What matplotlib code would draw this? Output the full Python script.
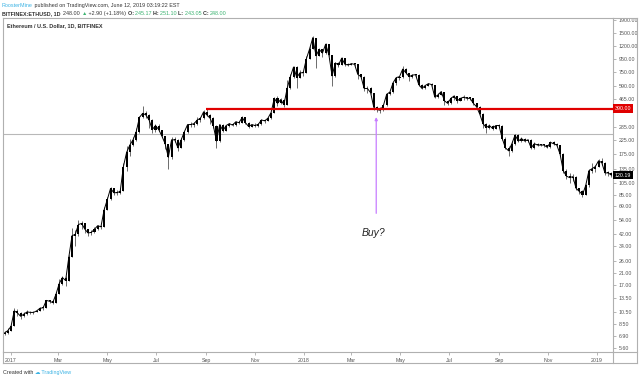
import matplotlib
matplotlib.use('Agg')
import matplotlib.pyplot as plt
import matplotlib.dates as mdates
import numpy as np
import pandas as pd
from matplotlib.lines import Line2D

# ETHUSD daily chart, sampled every 4 days (close / high / low)
dates = pd.date_range('2016-12-24', periods=190, freq='4D')
first_open = 7.2
closes = [
    7.3, 7.6, 8.2, 10.8, 10.4, 9.8, 10.2, 10.6, 10.5, 10.5,
    10.8, 11.3, 11.4, 13.0, 12.8, 12.5, 14.5, 17.5, 19.5, 18.5,
    28.0, 41.0, 42.0, 50.0, 51.0, 46.0, 43.0, 43.5, 46.0, 49.0,
    48.0, 65.0, 78.0, 95.0, 88.0, 88.0, 90.0, 140.0, 180.0, 205.0,
    225.0, 260.0, 335.0, 360.0, 350.0, 320.0, 270.0, 290.0, 270.0, 240.0,
    210.0, 165.0, 225.0, 225.0, 195.0, 225.0, 260.0, 295.0, 295.0, 300.0,
    320.0, 330.0, 370.0, 350.0, 330.0, 290.0, 220.0, 295.0, 265.0, 290.0,
    300.0, 292.0, 310.0, 305.0, 335.0, 305.0, 285.0, 295.0, 290.0, 296.0,
    320.0, 315.0, 330.0, 365.0, 470.0, 430.0, 460.0, 420.0, 560.0, 690.0,
    820.0, 680.0, 740.0, 740.0, 950.0, 1130.0, 1380.0, 1000.0, 1120.0, 1050.0,
    1230.0, 1020.0, 700.0, 880.0, 850.0, 960.0, 860.0, 850.0, 870.0, 860.0,
    720.0, 690.0, 560.0, 560.0, 520.0, 400.0, 385.0, 380.0, 415.0, 505.0,
    525.0, 620.0, 680.0, 690.0, 790.0, 740.0, 690.0, 710.0, 715.0, 600.0,
    560.0, 590.0, 610.0, 600.0, 480.0, 500.0, 530.0, 450.0, 430.0, 470.0,
    490.0, 450.0, 470.0, 480.0, 470.0, 470.0, 430.0, 405.0, 355.0, 300.0,
    280.0, 290.0, 275.0, 290.0, 290.0, 230.0, 195.0, 185.0, 210.0, 245.0,
    220.0, 230.0, 220.0, 225.0, 195.0, 210.0, 205.0, 205.0, 205.0, 197.0,
    215.0, 210.0, 205.0, 175.0, 130.0, 118.0, 115.0, 117.0, 95.0, 90.0,
    85.0, 100.0, 130.0, 135.0, 140.0, 155.0, 150.0, 125.0, 125.0, 120.19,
]
highs = [
    7.5, 7.9, 8.4, 11.3, 11.2, 10.5, 10.5, 11.0, 10.8, 10.8,
    11.0, 11.5, 11.7, 13.2, 13.2, 13.0, 15.0, 19.0, 20.0, 20.0,
    29.0, 47.0, 45.0, 54.0, 53.0, 51.0, 46.0, 45.0, 48.0, 50.0,
    50.0, 68.0, 82.0, 98.0, 96.0, 92.0, 94.0, 150.0, 200.0, 230.0,
    235.0, 280.0, 345.0, 410.0, 375.0, 355.0, 325.0, 300.0, 300.0, 270.0,
    240.0, 210.0, 235.0, 235.0, 228.0, 232.0, 265.0, 300.0, 310.0, 310.0,
    335.0, 340.0, 380.0, 395.0, 355.0, 335.0, 295.0, 300.0, 300.0, 295.0,
    305.0, 305.0, 315.0, 315.0, 345.0, 340.0, 310.0, 300.0, 302.0, 305.0,
    325.0, 322.0, 338.0, 372.0, 480.0, 490.0, 470.0, 465.0, 650.0, 720.0,
    830.0, 830.0, 780.0, 770.0, 990.0, 1180.0, 1430.0, 1380.0, 1150.0, 1130.0,
    1260.0, 1230.0, 1020.0, 900.0, 900.0, 980.0, 965.0, 880.0, 885.0, 875.0,
    860.0, 730.0, 695.0, 580.0, 570.0, 520.0, 410.0, 400.0, 425.0, 510.0,
    535.0, 630.0, 690.0, 700.0, 830.0, 800.0, 740.0, 730.0, 725.0, 720.0,
    610.0, 600.0, 620.0, 615.0, 600.0, 520.0, 540.0, 530.0, 460.0, 480.0,
    495.0, 492.0, 475.0, 500.0, 485.0, 480.0, 472.0, 435.0, 410.0, 360.0,
    305.0, 300.0, 292.0, 295.0, 300.0, 292.0, 235.0, 200.0, 220.0, 250.0,
    248.0, 235.0, 232.0, 230.0, 228.0, 215.0, 212.0, 210.0, 208.0, 206.0,
    220.0, 222.0, 212.0, 206.0, 178.0, 135.0, 125.0, 122.0, 118.0, 96.0,
    92.0, 102.0, 135.0, 150.0, 145.0, 160.0, 162.0, 152.0, 130.0, 127.0,
]
lows = [
    7.0, 7.2, 7.6, 8.2, 9.8, 9.4, 9.7, 10.1, 10.2, 10.3,
    10.5, 10.8, 11.0, 11.4, 12.4, 12.2, 12.5, 14.5, 17.0, 16.8,
    18.5, 28.0, 34.0, 41.0, 46.0, 43.0, 41.0, 41.5, 43.0, 45.5,
    46.5, 48.0, 65.0, 77.0, 84.0, 84.0, 86.0, 90.0, 130.0, 170.0,
    200.0, 222.0, 255.0, 330.0, 330.0, 280.0, 255.0, 260.0, 262.0, 235.0,
    190.0, 135.0, 160.0, 215.0, 185.0, 195.0, 220.0, 255.0, 285.0, 285.0,
    295.0, 310.0, 325.0, 345.0, 300.0, 280.0, 195.0, 218.0, 258.0, 265.0,
    285.0, 288.0, 290.0, 298.0, 305.0, 298.0, 280.0, 285.0, 285.0, 285.0,
    295.0, 305.0, 312.0, 328.0, 362.0, 410.0, 425.0, 400.0, 418.0, 555.0,
    680.0, 560.0, 670.0, 700.0, 735.0, 940.0, 1120.0, 800.0, 990.0, 980.0,
    1040.0, 1000.0, 580.0, 690.0, 820.0, 845.0, 840.0, 830.0, 845.0, 840.0,
    660.0, 680.0, 540.0, 520.0, 510.0, 380.0, 370.0, 365.0, 375.0, 410.0,
    500.0, 520.0, 600.0, 650.0, 680.0, 720.0, 640.0, 680.0, 690.0, 580.0,
    550.0, 555.0, 580.0, 590.0, 470.0, 475.0, 495.0, 420.0, 415.0, 428.0,
    460.0, 435.0, 445.0, 460.0, 455.0, 455.0, 420.0, 400.0, 350.0, 280.0,
    255.0, 275.0, 270.0, 272.0, 282.0, 225.0, 190.0, 168.0, 182.0, 205.0,
    215.0, 218.0, 215.0, 218.0, 190.0, 192.0, 200.0, 200.0, 198.0, 194.0,
    196.0, 205.0, 200.0, 170.0, 125.0, 112.0, 105.0, 108.0, 92.0, 86.0,
    82.0, 84.0, 98.0, 125.0, 128.0, 138.0, 145.0, 120.0, 118.0, 116.0,
]

y_ticks = [1900, 1500, 1200, 950, 750, 590, 465, 285, 225, 175, 135, 105,
           85, 69, 54, 42, 34, 26, 21, 17, 13.5, 10.5, 8.5, 6.9, 5.6]
x_tick_dates = ['2017-01-01', '2017-03-01', '2017-05-01', '2017-07-01',
                '2017-09-01', '2017-11-01', '2018-01-01', '2018-03-01',
                '2018-05-01', '2018-07-01', '2018-09-01', '2018-11-01',
                '2019-01-01']
x_tick_labels = ['2017', 'Mar', 'May', 'Jul', 'Sep', 'Nov', '2018',
                 'Mar', 'May', 'Jul', 'Sep', 'Nov', '2019']

resistance = 390.0
resistance_start = '2017-09-01'
price_line = 248.0
last_price = 120.19

plt.rcParams['font.family'] = ['Liberation Sans', 'DejaVu Sans']

W, H = 640, 379
fig = plt.figure(figsize=(W / 100, H / 100), dpi=100, facecolor='white')


def fx(px):
    return px / W


def fy(py):
    return 1 - py / H


ax = fig.add_axes([fx(3), fy(352), fx(610), (352 - 18) / H])
ax.set_facecolor('white')

# candles
x = mdates.date2num(dates)
c = np.array(closes)
o = np.r_[first_open, c[:-1]]
ax.axhline(price_line, color='#b8b8b8', lw=0.8, zorder=1)
ax.vlines(x, lows, highs, color='#333333', lw=0.5, zorder=2)
ax.plot(x, c, color='black', lw=0.7, zorder=2)
ax.bar(x, np.maximum(np.abs(c - o), c * 0.015), bottom=np.minimum(o, c),
       width=2.6, color='black', lw=0, zorder=3)

# resistance line
ax.hlines(resistance, mdates.datestr2num(resistance_start), x[-1] + 10,
          color='#e00000', lw=1.6, zorder=4)

# arrow and note
arrow_x = mdates.datestr2num('2018-04-01')
ax.annotate('', xy=(arrow_x, 337), xytext=(arrow_x, 61),
            arrowprops=dict(arrowstyle='-|>', color='#c77dff', lw=0.9,
                            mutation_scale=4, shrinkA=0, shrinkB=0), zorder=5)
ax.text(mdates.datestr2num('2018-03-28'), 43, 'Buy?', fontsize=7.5,
        style='italic', color='#222222', ha='center', va='center')

ax.set_yscale('log')
ax.set_ylim(5.2, 1957)
ax.set_xlim(mdates.datestr2num('2016-12-22'), mdates.datestr2num('2019-01-21'))
ax.yaxis.tick_right()
ax.set_yticks(y_ticks, labels=[f'{v:.2f}' for v in y_ticks])
ax.minorticks_off()
ax.set_xticks(mdates.datestr2num(x_tick_dates), labels=x_tick_labels)
ax.tick_params(axis='y', length=2.5, width=0.5, color='#999999',
               labelsize=3.8, labelcolor='#555555', pad=1.5)
ax.tick_params(axis='x', length=2.5, width=0.5, color='#999999',
               labelsize=3.8, labelcolor='#555555', pad=2)
for s in ax.spines.values():
    s.set_color('#b0b0b0')
    s.set_linewidth(0.8)

# price labels on the scale
lab_tr = ax.get_yaxis_transform()
ax.text(1.003, resistance, f'{resistance:.2f}', transform=lab_tr, fontsize=3.8,
        color='white', va='center', ha='left', zorder=6,
        bbox=dict(boxstyle='square,pad=0.35', fc='#e00000', ec='none'))
ax.text(1.003, last_price, f'{last_price:.2f}', transform=lab_tr, fontsize=3.8,
        color='white', va='center', ha='left', zorder=6,
        bbox=dict(boxstyle='square,pad=0.35', fc='black', ec='none'))

# outer frame
frame = '#b0b0b0'
for (x0, y0, x1, y1) in [(613, 18, 637, 18), (637, 18, 637, 363),
                         (3, 363, 637, 363), (3, 352, 3, 363),
                         (613, 352, 613, 363), (613, 352, 637, 352)]:
    fig.add_artist(Line2D([fx(x0), fx(x1)], [fy(y0), fy(y1)],
                          color=frame, lw=0.8))

ax.text(0.007, 0.985, 'Ethereum / U.S. Dollar, 1D, BITFINEX',
        transform=ax.transAxes, fontsize=4, fontweight='bold',
        color='#333333', va='top', ha='left')


def seg_text(px, py, parts, size):
    t = ax.annotate(parts[0][0], xy=(fx(px), fy(py)), xycoords='figure fraction',
                    fontsize=size, color=parts[0][1], fontweight=parts[0][2],
                    va='bottom', ha='left', annotation_clip=False)
    for s, col, wt in parts[1:]:
        t = ax.annotate(s, xy=(1, 0), xycoords=t, fontsize=size, color=col,
                        fontweight=wt, va='bottom', ha='left',
                        annotation_clip=False)


dark = '#333333'
green = '#3cb371'
blue = '#3bb3e4'
seg_text(2, 8, [('RoosterMine', blue, 'normal'),
                (' published on TradingView.com, June 12, 2019 03:19:22 EST',
                 dark, 'normal')], 3.9)
seg_text(2, 16, [('BITFINEX:ETHUSD, 1D', dark, 'bold'),
                 ('  248.00 ', dark, 'normal'), ('\u25b2', green, 'normal'),
                 (' +2.90 (+1.18%) ', dark, 'normal'),
                 ('O: ', dark, 'bold'), ('245.17 ', green, 'normal'),
                 ('H: ', dark, 'bold'), ('251.10 ', green, 'normal'),
                 ('L: ', dark, 'bold'), ('243.05 ', green, 'normal'),
                 ('C: ', dark, 'bold'), ('248.00', green, 'normal')], 3.9)
seg_text(3, 375, [('Created with ', dark, 'normal'), ('\u2601', blue, 'normal'),
                  (' TradingView', blue, 'normal')], 3.9)

fig.savefig('out.png', dpi=100, facecolor='white')
